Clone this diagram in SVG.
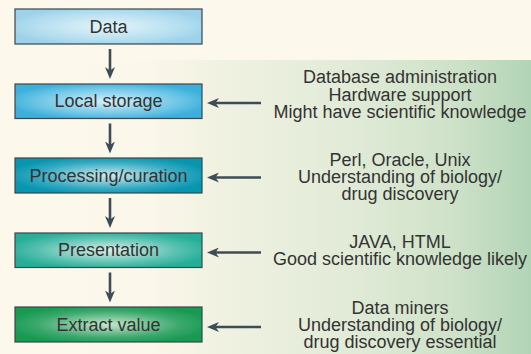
<svg xmlns="http://www.w3.org/2000/svg" width="531" height="354" viewBox="0 0 531 354">
  <defs>
    <linearGradient id="panel" x1="0" y1="0" x2="1" y2="0">
      <stop offset="0" stop-color="#fdf8ec"/>
      <stop offset="0.28" stop-color="#fbf7ea"/>
      <stop offset="0.4" stop-color="#f1f2e2"/>
      <stop offset="0.65" stop-color="#e2ebd8"/>
      <stop offset="0.85" stop-color="#cfe2c9"/>
      <stop offset="1" stop-color="#b2d4b6"/>
    </linearGradient>
    <radialGradient id="gData" cx="0.5" cy="0.5" r="0.55">
      <stop offset="0" stop-color="#e4f4fa"/>
      <stop offset="0.75" stop-color="#b2ddef"/>
      <stop offset="1" stop-color="#9dd2ea"/>
    </radialGradient>
    <radialGradient id="gLocal" cx="0.5" cy="0.5" r="0.55">
      <stop offset="0" stop-color="#d6f0f9"/>
      <stop offset="0.7" stop-color="#6cc5e6"/>
      <stop offset="1" stop-color="#3cafdc"/>
    </radialGradient>
    <radialGradient id="gProc" cx="0.5" cy="0.5" r="0.55">
      <stop offset="0" stop-color="#cdeaf0"/>
      <stop offset="0.7" stop-color="#33a9c1"/>
      <stop offset="1" stop-color="#0795b0"/>
    </radialGradient>
    <radialGradient id="gPres" cx="0.5" cy="0.5" r="0.55">
      <stop offset="0" stop-color="#d8f0ea"/>
      <stop offset="0.7" stop-color="#55bfae"/>
      <stop offset="1" stop-color="#27ae99"/>
    </radialGradient>
    <radialGradient id="gExt" cx="0.5" cy="0.5" r="0.55">
      <stop offset="0" stop-color="#c6e5cc"/>
      <stop offset="0.7" stop-color="#3aa86c"/>
      <stop offset="1" stop-color="#199a53"/>
    </radialGradient>
    <marker id="ah" viewBox="0 0 12 10" refX="6" refY="5" markerWidth="12" markerHeight="10" markerUnits="userSpaceOnUse" orient="auto">
      <path d="M0,0 L12,5 L0,10 L3.5,5 Z" fill="#3c4d57"/>
    </marker>
    <style>
      .box { stroke: #3b474c; stroke-width: 1.2; }
      .lbl { font-family: "Liberation Sans", Arial, sans-serif; font-size: 18px; fill: #333333; text-anchor: middle; }
      .conn line { stroke: #3c4d57; stroke-width: 2.6; fill: none; marker-end: url(#ah); }
    </style>
  </defs>

  <rect x="0" y="0" width="531" height="354" fill="#fdf8ec"/>
  <rect x="0" y="60" width="531" height="294" fill="url(#panel)"/>

  <g id="node-data">
    <rect class="box" x="15" y="9" width="187" height="35" fill="url(#gData)"/>
    <text class="lbl" x="108.5" y="32.5">Data</text>
  </g>
  <g id="node-local">
    <rect class="box" x="15" y="84" width="187" height="34.5" fill="url(#gLocal)"/>
    <text class="lbl" x="108.5" y="107">Local storage</text>
  </g>
  <g id="node-proc">
    <rect class="box" x="15" y="158" width="187" height="35" fill="url(#gProc)"/>
    <text class="lbl" x="108.5" y="181.5">Processing/curation</text>
  </g>
  <g id="node-pres">
    <rect class="box" x="15" y="233" width="187" height="34.5" fill="url(#gPres)"/>
    <text class="lbl" x="108.5" y="256">Presentation</text>
  </g>
  <g id="node-extract">
    <rect class="box" x="15" y="307" width="187" height="35" fill="url(#gExt)"/>
    <text class="lbl" x="108.5" y="330.5">Extract value</text>
  </g>

  <g id="note-local">
    <text class="lbl" x="400" y="83">Database administration</text>
    <text class="lbl" x="400" y="100.5">Hardware support</text>
    <text class="lbl" x="400" y="118">Might have scientific knowledge</text>
  </g>
  <g id="note-proc">
    <text class="lbl" x="400" y="166">Perl, Oracle, Unix</text>
    <text class="lbl" x="400" y="183">Understanding of biology/</text>
    <text class="lbl" x="400" y="200">drug discovery</text>
  </g>
  <g id="note-pres">
    <text class="lbl" x="400" y="248">JAVA, HTML</text>
    <text class="lbl" x="400" y="265">Good scientific knowledge likely</text>
  </g>
  <g id="note-extract">
    <text class="lbl" x="400" y="314">Data miners</text>
    <text class="lbl" x="400" y="331">Understanding of biology/</text>
    <text class="lbl" x="400" y="348">drug discovery essential</text>
  </g>

  <g id="connectors" class="conn">
    <line x1="110" y1="49" x2="110" y2="73"/>
    <line x1="110" y1="123.5" x2="110" y2="147.5"/>
    <line x1="110" y1="198" x2="110" y2="222"/>
    <line x1="110" y1="272.5" x2="110" y2="296.5"/>
    <line x1="261" y1="103" x2="213" y2="103"/>
    <line x1="261" y1="177.5" x2="213" y2="177.5"/>
    <line x1="261" y1="252.5" x2="213" y2="252.5"/>
    <line x1="261" y1="327" x2="213" y2="327"/>
  </g>
</svg>
